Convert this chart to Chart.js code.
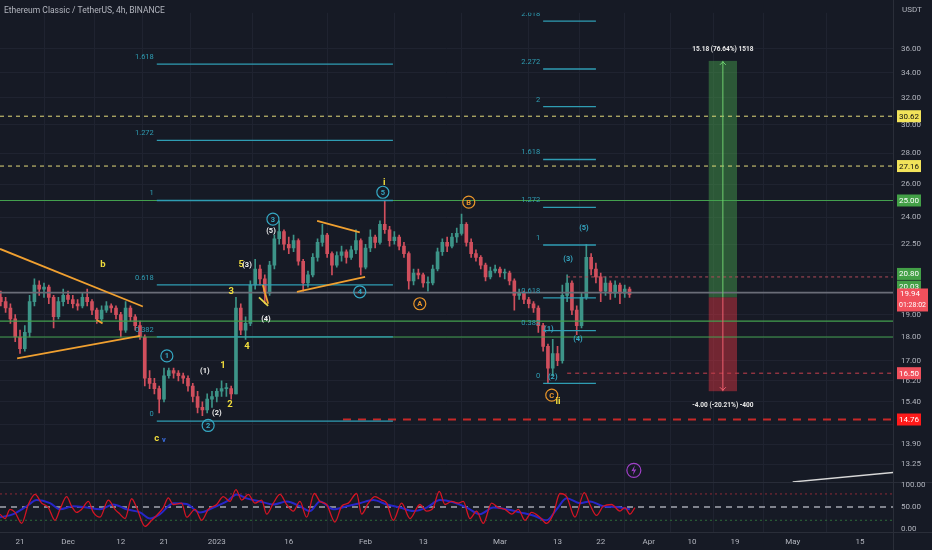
<!DOCTYPE html>
<html>
<head>
<meta charset="utf-8">
<script src="https://cdn.jsdelivr.net/npm/chart.js@4.4.0/dist/chart.umd.min.js"></script>
<style>
html,body{margin:0;padding:0;background:#161a25;}
#wrap{width:932px;height:550px;position:relative;}
</style>
</head>
<body>
<div id="wrap"><canvas id="chart"></canvas></div>
<script>
// ---- data (day 0 = Nov 21 2022, one candle per day) ----
const firstDay = -4;
const ohlc = [
 [19.8,20.1,19.4,19.6],[19.6,19.8,19.1,19.3],[19.3,19.5,18.6,18.8],[18.8,19.0,17.8,18.0],
 [18.0,18.3,17.3,17.5],[17.5,18.5,17.4,18.2],[18.2,19.9,18.0,19.6],[19.6,20.7,19.4,20.4],
 [20.4,20.6,19.9,20.2],[20.2,20.5,19.8,20.3],[20.3,20.4,19.5,19.8],[19.8,19.9,18.4,18.9],
 [18.9,19.8,18.8,19.6],[19.6,20.2,19.4,19.9],[19.9,20.1,19.5,19.7],[19.7,19.9,19.3,19.5],
 [19.5,19.7,19.2,19.4],[19.4,20.0,19.3,19.8],[19.8,20.2,19.4,19.6],[19.6,19.7,19.0,19.2],
 [19.2,19.3,18.6,18.8],[18.8,19.4,18.7,19.2],[19.2,19.6,19.1,19.4],[19.4,19.5,19.1,19.3],
 [19.3,19.4,18.8,19.0],[19.0,19.1,18.0,18.3],[18.3,19.6,18.2,19.3],[19.3,19.4,18.7,18.9],
 [18.9,19.0,18.3,18.5],[18.5,18.7,17.9,18.0],[18.0,18.1,16.0,16.3],[16.3,16.6,15.9,16.1],
 [16.1,16.3,15.7,15.9],[15.9,16.0,15.0,15.5],[15.5,16.7,15.4,16.4],[16.4,16.7,16.3,16.6],
 [16.6,16.7,16.3,16.5],[16.5,16.6,16.2,16.4],[16.4,16.5,16.1,16.3],[16.3,16.4,15.8,16.0],
 [16.0,16.1,15.4,15.6],[15.6,15.8,15.0,15.2],[15.2,15.4,14.9,15.1],[15.1,15.7,15.0,15.5],
 [15.5,15.8,15.2,15.6],[15.6,15.9,15.4,15.8],[15.8,16.2,15.6,15.9],[15.9,16.1,15.6,15.9],
 [15.9,16.0,15.5,15.7],[15.7,19.8,15.7,19.3],[19.3,19.5,18.1,18.3],[18.3,18.9,17.9,18.6],
 [18.6,20.6,18.5,20.4],[20.4,21.7,20.2,21.2],[21.2,21.4,20.4,20.7],[20.7,20.9,19.5,20.0],
 [20.0,21.6,19.9,21.4],[21.4,23.0,21.2,22.8],[22.8,23.8,22.5,23.2],[23.2,23.3,22.2,22.5],
 [22.5,22.9,22.0,22.3],[22.3,23.0,22.1,22.7],[22.7,22.8,21.4,21.6],[21.6,21.7,20.1,20.5],
 [20.5,21.1,20.3,20.9],[20.9,22.0,20.8,21.8],[21.8,22.8,21.6,22.6],[22.6,23.6,22.4,23.0],
 [23.0,23.1,21.8,22.0],[22.0,22.1,20.9,21.4],[21.4,22.1,21.3,21.9],[21.9,22.4,21.6,22.1],
 [22.1,22.2,21.5,21.8],[21.8,22.4,21.7,22.2],[22.2,23.3,22.0,22.7],[22.7,22.8,20.9,21.3],
 [21.3,22.5,21.2,22.3],[22.3,23.3,22.1,22.9],[22.9,23.0,22.3,22.6],[22.6,23.8,22.5,23.6],
 [23.6,25.0,23.1,23.3],[23.3,23.5,22.4,22.7],[22.7,23.2,22.5,22.9],[22.9,23.0,22.2,22.4],
 [22.4,22.6,21.8,22.0],[22.0,22.1,20.2,20.6],[20.6,21.2,20.4,21.0],[21.0,21.2,20.7,20.9],
 [20.9,21.0,20.3,20.5],[20.5,20.8,20.1,20.5],[20.5,21.4,20.4,21.2],[21.2,22.3,21.1,22.1],
 [22.1,22.8,21.9,22.6],[22.6,22.9,22.1,22.4],[22.4,23.1,22.3,22.9],[22.9,23.4,22.6,23.1],
 [23.1,24.2,23.0,23.6],[23.6,23.7,22.4,22.6],[22.6,22.8,21.8,22.0],[22.0,22.2,21.6,21.8],
 [21.8,21.9,21.2,21.4],[21.4,21.5,20.6,20.8],[20.8,21.3,20.7,21.1],[21.1,21.4,21.0,21.2],
 [21.2,21.3,20.8,21.0],[21.0,21.2,20.7,21.0],[21.0,21.1,20.4,20.6],[20.6,20.7,19.2,19.9],
 [19.9,20.2,19.7,20.0],[20.0,20.1,19.5,19.7],[19.7,19.8,19.3,19.5],[19.5,19.6,19.1,19.3],
 [19.3,19.4,18.2,18.5],[18.5,18.6,17.4,17.6],[17.6,17.7,16.1,16.7],[16.7,17.9,16.4,17.3],
 [17.3,17.6,16.8,17.0],[17.0,20.4,16.9,19.9],[19.9,20.9,19.6,20.5],[20.5,20.6,19.0,19.2],
 [19.2,19.4,18.1,18.5],[18.5,20.0,18.4,19.8],[19.8,22.5,19.7,21.8],[21.8,22.0,20.9,21.2],
 [21.2,21.5,20.5,20.8],[20.8,21.0,19.6,20.1],[20.1,20.8,19.9,20.5],[20.5,20.6,19.7,20.0],
 [20.0,20.6,19.8,20.4],[20.4,20.5,19.5,20.0],[20.0,20.4,19.8,20.2],[20.2,20.3,19.8,19.94]
];

const rsiDays = [-4.17,-3.13,-2.08,-1.04,0.35,1.74,3.13,4.51,5.9,7.29,8.33,9.72,10.76,11.8,12.85,
  14.24,15.28,16.67,18.4,19.79,20.83,21.88,23.26,24.3,26.04,27.43,28.47,29.86,30.9,31.94,
  33.68,34.72,36.46,37.85,39.24,40.97,42.36,43.75,45.0,46.18,47.57,48.96,50.35,51.39,52.78,
  54.17,55.56,56.94,58.33,59.72,61.32,
  62.5,63.89,65.63,67.01,68.4,70.14,71.18,72.57,73.96,75.35,76.39,77.78,79.51,81.25,83.33,
  84.72,86.11,87.36,88.54,89.93,91.32,92.36,93.75,95.14,96.53,98.26,99.65,101.04,102.43,103.82,
  105.21,106.6,108.33,109.72,111.11,112.5,113.89,115.63,117.57,118.75,120.14,121.53,123.26,125.0,
  126.04,127.08,128.13];
const rsiValues = [34,24,45,38,13,56,79,59,49,20,45,74,52,38,45,
  63,38,27,66,45,34,24,69,49,6,20,31,49,71,56,
  59,27,45,20,45,56,74,63,90,66,79,59,66,34,59,
  79,56,41,63,27,81,
  63,56,16,52,59,81,34,59,74,66,59,20,59,24,56,
  41,49,86,56,63,59,63,24,41,13,59,49,45,34,45,
  20,38,27,13,34,81,74,27,83,56,31,52,56,41,49,
  34,49];
const maDays = [-4.17,-1.39,1.39,3.47,6.25,8.33,11.11,13.89,16.67,19.44,22.22,25.0,27.08,29.17,31.94,
  34.72,37.5,40.28,43.06,45.14,47.22,50.0,52.78,55.56,58.33,60.42,
  62.5,65.28,68.06,70.83,73.61,76.39,79.17,81.94,84.72,87.5,90.28,93.06,95.83,98.61,101.39,
  104.17,106.94,109.72,111.81,113.89,116.67,118.75,121.53,124.31,127.08];
const maValues = [27,34,52,66,59,45,52,49,45,56,45,38,24,34,59,
  57,38,49,63,79,70,63,56,63,52,41,
  63,45,52,59,66,56,49,41,49,66,61,49,34,49,45,
  38,31,20,45,70,59,63,52,50,45];

const dateTicks = [0,10,21,30,41,56,72,84,100,112,121,131,140,149,161,175];
const dateLabels = ['21','Dec','12','21','2023','16','Feb','13','Mar','13','22','Apr','10','19','May','15'];
const priceTicks = [36,34,32,30,28,26,24,22.5,21,19,18,17,16.2,15.4,14.6,13.9,13.25];
const hiddenPriceTicks = [21,14.6];
const rsiTicks = [100,50,0];

// horizontal levels: price, start day, kind
const levels = [
  [30.62,-5,'yellowDash'],[27.16,-5,'yellowDash'],[25.0,-5,'green'],[20.03,-5,'grey'],
  [18.7,-5,'green'],[18.0,-5,'green'],[20.8,114,'pinkDash'],[16.5,114,'redDash'],[14.76,67.3,'redBold']
];
const axisTags = [[30.62,'yellow'],[27.16,'yellow'],[25.0,'green'],[20.8,'green'],[20.03,'green'],[19.94,'red'],[16.5,'red'],[14.76,'bright']];
const countdown = '01:28:02';

// fib extensions
const fibA = {from:28.5, to:77.7, p0:14.7, p1:25.0};
const fibALevels = [0,0.382,0.618,1,1.272,1.618];
const fibB = {from:109, to:120, p0:16.1, p1:22.46};
const fibBLevels = [0,0.382,0.618,1,1.272,1.618,2,2.272,2.618];

// trend lines: d1, p1, d2, p2, kind
const trendLines = [
  [-4.17,22.25,25.6,19.37,'o'],[-0.6,17.1,25.0,18.05,'o'],
  [61.9,23.8,70.8,23.15,'o'],[57.7,20.07,71.9,20.8,'o'],
  [50.6,20.4,51.7,19.5,'o'],[49.8,19.8,51.7,19.4,'y'],[16.0,18.75,17.2,18.6,'o'],
  [161,12.7,182.5,13.0,'w']
];

// wave labels: text, day, price, kind
const waveLabels = [
  ['b',17.3,21.4,'y'],['1',30.6,17.2,'tc'],['(1)',38.5,16.6,'w'],['1',42.3,16.8,'y'],
  ['2',43.75,15.3,'y'],['(2)',41.0,15.0,'w'],['2',39.2,14.55,'tc'],['c',28.5,14.08,'y'],
  ['v',30.0,14.05,'b'],['3',44.0,20.07,'y'],['4',47.3,17.6,'y'],['(4)',51.25,18.8,'w'],
  ['5',46.1,21.4,'y'],['(3)',47.3,21.4,'w'],['3',52.7,23.9,'tc'],['(5)',52.3,23.2,'w'],
  ['4',70.8,20.07,'tc'],['5',75.6,25.5,'tc'],['i',75.9,26.1,'y'],['A',83.3,19.5,'oc'],
  ['B',93.5,24.9,'oc'],['(5)',117.5,23.4,'t'],['(3)',114.2,21.7,'t'],['(1)',110.2,18.35,'t'],
  ['(4)',116.25,17.9,'t'],['(2)',111.0,16.36,'t'],['C',110.8,15.65,'oc'],['ii',112.1,15.4,'y']
];

const position = {from:143.5, to:149.4, entry:19.8, target:34.98, stop:15.8};
const positionTexts = ['15.18 (76.64%) 1518','-4.00 (-20.21%) -400'];
const iconAt = [127.9, 13.06];
const paneSplit = 12.7;

// ---- styles ----
const FONT = "Roboto,'DejaVu Sans',sans-serif";
const TXT = '#b2b5be';
const UP = '#3d9488', DOWN = '#d04f5d';
const levelStyles = {
  yellowDash:{color:'#e3da7a', width:1, dash:[4,4]},
  green:{color:'#43a04e', width:1.2, dash:[]},
  grey:{color:'#6a6d78', width:1.6, dash:[]},
  pinkDash:{color:'#b04a58', width:1, dash:[3,3]},
  redDash:{color:'#c8404e', width:1, dash:[4,4]},
  redBold:{color:'#c62828', width:2, dash:[8,7]}
};
const tagStyles = {yellow:['#f2e35a','#111'], green:['#43a047','#fff'], red:['#f0505c','#fff'], bright:['#ff1a1a','#fff']};
const trendColors = {o:'#f0a030', y:'#e8d84a', w:'#d8d8d8'};
const FIB = '#2f9db3';

const candleColors = ohlc.map(r => r[3] >= r[0] ? UP : DOWN);

const overlay = {
  id:'overlay',
  beforeDatasetsDraw(chart){
    const {ctx, chartArea:a, scales:{x,y,y2}} = chart;
    const X = v => x.getPixelForValue(v), Y = v => y.getPixelForValue(v), R = v => y2.getPixelForValue(v);
    ctx.save();
    const x1 = X(position.from), x2 = X(position.to);
    ctx.fillStyle = 'rgba(76,175,80,0.42)';
    ctx.fillRect(x1, Y(position.target), x2-x1, Y(position.entry)-Y(position.target));
    ctx.fillStyle = 'rgba(242,54,69,0.42)';
    ctx.fillRect(x1, Y(position.entry), x2-x1, Y(position.stop)-Y(position.entry));
    // rsi guides
    [[80,'#8e2a36',[2,3],1],[50,'#a4a7b0',[6,5],1.5],[20,'#2e6b3a',[2,3],1]].forEach(g => {
      ctx.strokeStyle = g[1]; ctx.setLineDash(g[2]); ctx.lineWidth = g[3];
      ctx.beginPath(); ctx.moveTo(a.left, R(g[0])); ctx.lineTo(a.right, R(g[0])); ctx.stroke();
    });
    ctx.restore();
  },
  afterDatasetsDraw(chart){
    const {ctx, chartArea:a, scales:{x,y}} = chart;
    const X = v => x.getPixelForValue(v), Y = v => y.getPixelForValue(v);
    const split = Y(paneSplit);
    ctx.save();
    ctx.beginPath(); ctx.rect(a.left, a.top, a.right-a.left, split-a.top); ctx.clip();
    // levels
    levels.forEach(l => {
      const s = levelStyles[l[2]];
      ctx.strokeStyle = s.color; ctx.lineWidth = s.width; ctx.setLineDash(s.dash);
      ctx.beginPath(); ctx.moveTo(Math.max(a.left, X(l[1])), Y(l[0])); ctx.lineTo(a.right, Y(l[0])); ctx.stroke();
    });
    ctx.setLineDash([]);
    // fibs
    const drawFib = (f, lv) => {
      const l0 = Math.log(f.p0), l1 = Math.log(f.p1);
      ctx.font = '7.5px ' + FONT; ctx.textAlign = 'right'; ctx.textBaseline = 'middle';
      lv.forEach(k => {
        const py = Y(Math.exp(l0 + k*(l1-l0)));
        ctx.strokeStyle = FIB; ctx.lineWidth = 1.3;
        ctx.beginPath(); ctx.moveTo(X(f.from), py); ctx.lineTo(X(f.to), py); ctx.stroke();
        ctx.fillStyle = FIB; ctx.fillText(String(k), X(f.from)-3, py-7);
      });
    };
    drawFib(fibA, fibALevels);
    drawFib(fibB, fibBLevels);
    // trend lines
    trendLines.forEach(t => {
      ctx.strokeStyle = trendColors[t[4]]; ctx.lineWidth = t[4] === 'w' ? 1.4 : 1.8;
      ctx.beginPath(); ctx.moveTo(X(t[0]), Y(t[1])); ctx.lineTo(X(t[2]), Y(t[3])); ctx.stroke();
    });
    // wave labels
    ctx.textAlign = 'center'; ctx.textBaseline = 'middle';
    waveLabels.forEach(w => {
      const px = X(w[1]), py = Y(w[2]), k = w[3];
      if (k === 'tc' || k === 'oc') {
        const c = k === 'tc' ? '#35a7c2' : '#e8952a';
        ctx.strokeStyle = c; ctx.lineWidth = 1.2;
        ctx.beginPath(); ctx.arc(px, py, 6, 0, Math.PI*2); ctx.stroke();
        ctx.fillStyle = c; ctx.font = 'bold 7.5px ' + FONT; ctx.fillText(w[0], px, py+0.5);
      } else {
        ctx.fillStyle = {y:'#f0dc3c', w:'#f0f0f0', t:'#35a7c2', b:'#3a6ee0'}[k];
        ctx.font = (k === 'y' ? 'bold 9.5px ' : 'bold 7.5px ') + FONT;
        ctx.fillText(w[0], px, py);
      }
    });
    // position box centre line and texts
    const cx = (X(position.from)+X(position.to))/2;
    ctx.lineWidth = 1;
    ctx.strokeStyle = '#6fd070';
    ctx.beginPath(); ctx.moveTo(cx, Y(position.entry)); ctx.lineTo(cx, Y(position.target)); ctx.stroke();
    ctx.beginPath(); ctx.moveTo(cx-3, Y(position.target)+4); ctx.lineTo(cx, Y(position.target)+1); ctx.lineTo(cx+3, Y(position.target)+4); ctx.stroke();
    ctx.strokeStyle = '#f06070';
    ctx.beginPath(); ctx.moveTo(cx, Y(position.entry)); ctx.lineTo(cx, Y(position.stop)); ctx.stroke();
    ctx.beginPath(); ctx.moveTo(cx-3, Y(position.stop)-4); ctx.lineTo(cx, Y(position.stop)-1); ctx.lineTo(cx+3, Y(position.stop)-4); ctx.stroke();
    ctx.fillStyle = '#e8e8e8'; ctx.font = 'bold 6.5px ' + FONT;
    ctx.fillText(positionTexts[0], cx, Y(position.target)-12);
    ctx.fillText(positionTexts[1], cx, Y(position.stop)+14);
    // icon
    const ix = X(iconAt[0]), iy = Y(iconAt[1]);
    ctx.strokeStyle = '#a040c8'; ctx.lineWidth = 1.2;
    ctx.beginPath(); ctx.arc(ix, iy, 7, 0, Math.PI*2); ctx.stroke();
    ctx.fillStyle = '#a040c8';
    ctx.beginPath(); ctx.moveTo(ix+1, iy-5); ctx.lineTo(ix-2.5, iy+1); ctx.lineTo(ix, iy+0.5);
    ctx.lineTo(ix-1, iy+5); ctx.lineTo(ix+2.5, iy-1); ctx.lineTo(ix, iy-0.5); ctx.closePath(); ctx.fill();
    ctx.restore();
  },
  afterDraw(chart){
    const {ctx, chartArea:a, scales:{y,y2}} = chart;
    const Y = v => y.getPixelForValue(v), R = v => y2.getPixelForValue(v);
    const W = chart.width, split = Y(paneSplit);
    ctx.save();
    ctx.strokeStyle = '#2a2e39'; ctx.lineWidth = 1;
    ctx.beginPath(); ctx.moveTo(0, split+0.5); ctx.lineTo(W, split+0.5); ctx.stroke();
    ctx.beginPath(); ctx.moveTo(0, a.bottom+0.5); ctx.lineTo(W, a.bottom+0.5); ctx.stroke();
    ctx.beginPath(); ctx.moveTo(a.right+0.5, 0); ctx.lineTo(a.right+0.5, chart.height); ctx.stroke();
    ctx.fillStyle = TXT; ctx.font = '8px ' + FONT; ctx.textBaseline = 'middle'; ctx.textAlign = 'left';
    ctx.fillText('USDT', a.right+9, 10);
    rsiTicks.forEach(v => ctx.fillText(v.toFixed(2), a.right+8, R(v)));
    ctx.font = '8.5px ' + FONT;
    ctx.fillText('Ethereum Classic / TetherUS, 4h, BINANCE', 4, 11);
    // price tags
    const nudge = {20.8:-3, 20.03:-6};
    ctx.font = '8px ' + FONT;
    axisTags.forEach(t => {
      const st = tagStyles[t[1]], py = Y(t[0]) + (nudge[t[0]] || 0), bx = a.right + 4;
      const lbl = t[0].toFixed(2);
      if (t[0] === 19.94) {
        ctx.fillStyle = st[0]; ctx.fillRect(bx, py-6, 31, 23);
        ctx.fillStyle = st[1]; ctx.textAlign = 'left';
        ctx.fillText(lbl, bx+3, py); ctx.font = '7px ' + FONT;
        ctx.fillText(countdown, bx+2, py+10.5); ctx.font = '8px ' + FONT;
      } else {
        ctx.fillStyle = st[0]; ctx.fillRect(bx, py-6, 24, 12);
        ctx.fillStyle = st[1]; ctx.textAlign = 'center';
        ctx.fillText(lbl, bx+12, py+0.5);
      }
    });
    ctx.restore();
  }
};

Chart.defaults.font.family = FONT;
new Chart(document.getElementById('chart'), {
  type:'bar',
  data:{datasets:[
    {type:'line', label:'RSI', data:rsiDays.map((d,i)=>({x:d, y:rsiValues[i]})), yAxisID:'y2',
     borderColor:'#d41424', borderWidth:1.3, pointRadius:0, cubicInterpolationMode:'monotone', order:0},
    {type:'line', label:'RSI MA', data:maDays.map((d,i)=>({x:d, y:maValues[i]})), yAxisID:'y2',
     borderColor:'#2626c8', borderWidth:2, pointRadius:0, cubicInterpolationMode:'monotone', order:1},
    {label:'body', data:ohlc.map((r,i)=>({x:firstDay+i, y:[r[0], r[3]]})), yAxisID:'y',
     backgroundColor:candleColors, barThickness:3, minBarLength:1, grouped:false, order:2},
    {label:'wick', data:ohlc.map((r,i)=>({x:firstDay+i, y:[r[2], r[1]]})), yAxisID:'y',
     backgroundColor:candleColors, barThickness:1, grouped:false, order:3}
  ]},
  options:{
    responsive:true, maintainAspectRatio:false, animation:false,
    layout:{padding:0},
    plugins:{legend:{display:false}, tooltip:{enabled:false}},
    scales:{
      x:{type:'linear', min:-4.17, max:181.9, bounds:'data', offset:false,
        afterBuildTicks:s => { s.ticks = dateTicks.map(v => ({value:v})); },
        afterFit:s => { s.height = 18; },
        grid:{color:'#1f2330', drawTicks:false}, border:{display:false},
        ticks:{autoSkip:false, maxRotation:0, padding:5, color:TXT, font:{size:8},
          callback:(v,i) => dateLabels[i]}},
      y:{type:'logarithmic', position:'right', min:11.26, max:39.27, bounds:'data',
        afterBuildTicks:s => { s.ticks = priceTicks.map(v => ({value:v})); },
        afterFit:s => { s.width = 39; },
        grid:{color:'#1f2330', drawTicks:false}, border:{display:false},
        ticks:{autoSkip:false, padding:8, color:TXT, font:{size:8},
          callback:v => hiddenPriceTicks.includes(v) ? '' : Number(v).toFixed(2)}},
      y2:{type:'linear', display:false, min:-6.67, max:1175.6}
    }
  },
  plugins:[overlay]
});
</script>
</body>
</html>
